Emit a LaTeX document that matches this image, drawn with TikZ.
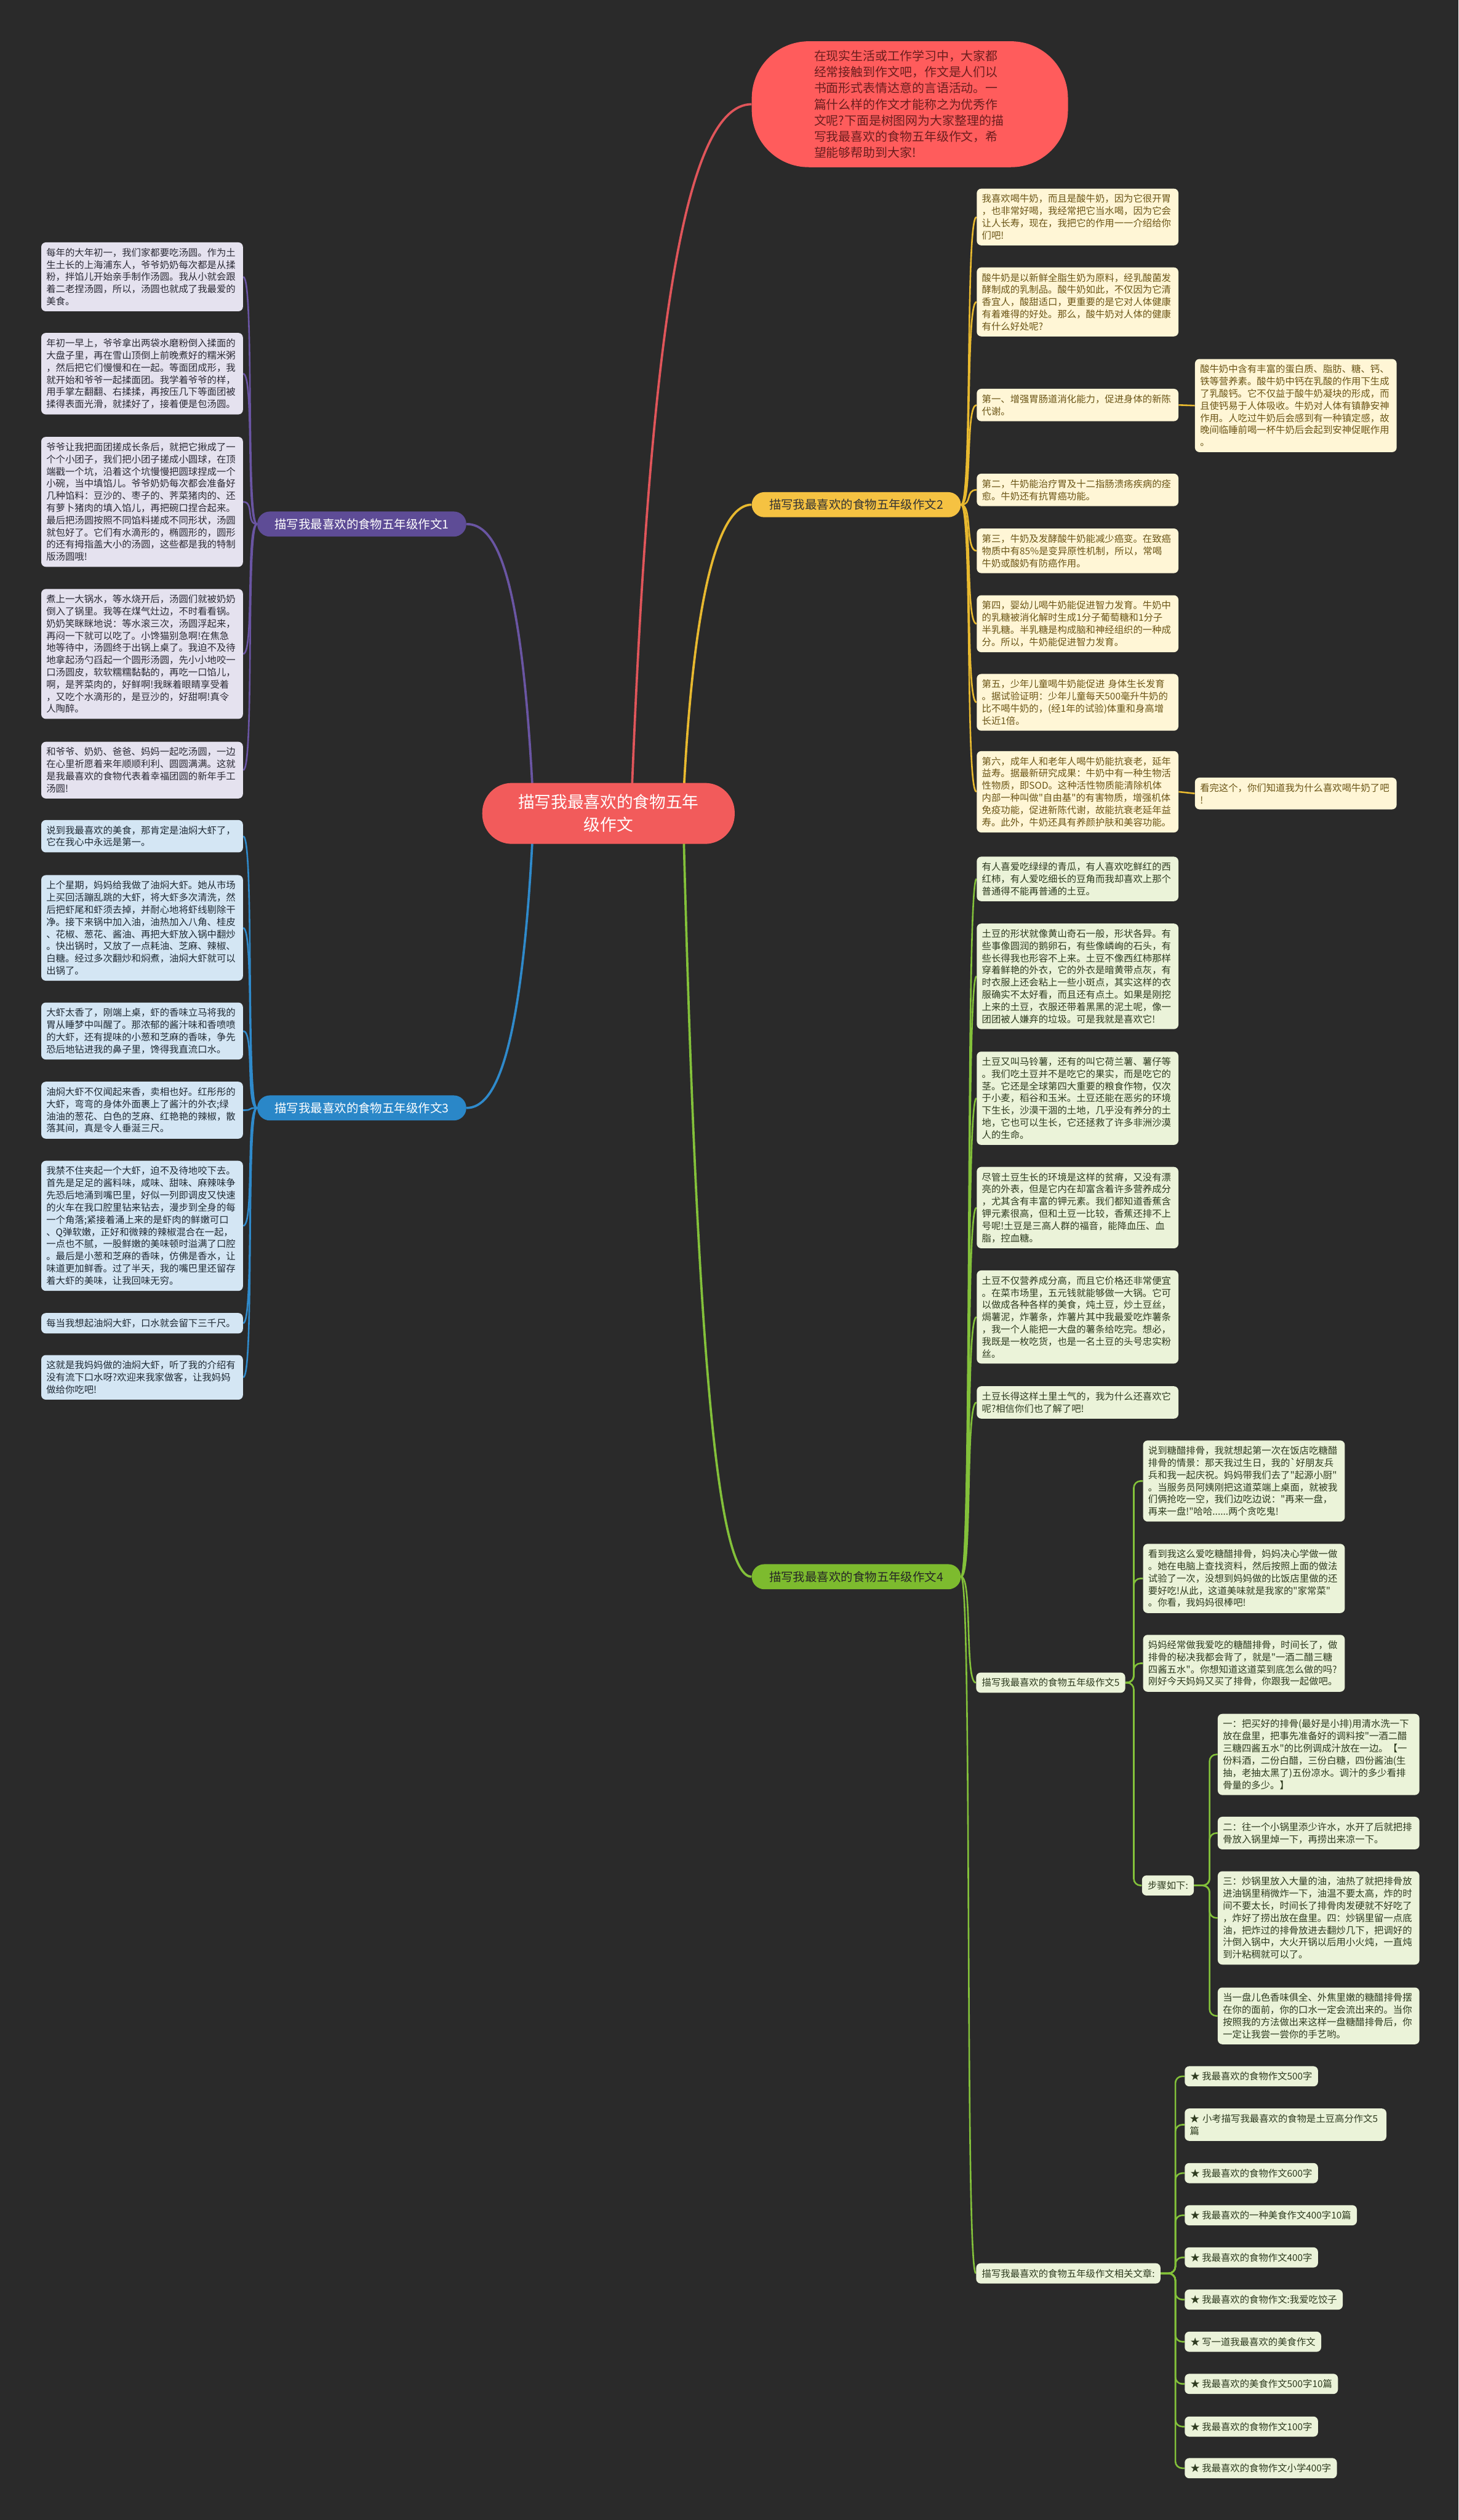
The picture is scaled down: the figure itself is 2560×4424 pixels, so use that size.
\documentclass[tikz,border=0pt]{standalone}
\usepackage{fontspec}
\newfontfamily\cjk{Noto Sans CJK SC}
\usetikzlibrary{calc}
\pgfdeclarelayer{bg}
\pgfsetlayers{bg,main}
\definecolor{bgc}{HTML}{2A2A2A}
\definecolor{cred}{HTML}{F25B5B}
\definecolor{tred}{HTML}{FF5C5C}
\definecolor{ttx}{HTML}{6B1E1E}
\definecolor{lnr}{HTML}{E0555A}
\definecolor{ln1}{HTML}{6A55A3}
\definecolor{ln2}{HTML}{E8B92F}
\definecolor{ln3}{HTML}{2F8ACB}
\definecolor{ln4}{HTML}{83C13A}
\definecolor{lb1}{HTML}{5E4C96}
\definecolor{lb2}{HTML}{F5C242}
\definecolor{lb3}{HTML}{2A87C8}
\definecolor{lb4}{HTML}{7DBB2E}
\definecolor{lf1}{HTML}{E5E2EF}
\definecolor{lf2}{HTML}{FFF6D6}
\definecolor{lf3}{HTML}{D4E6F4}
\definecolor{lf4}{HTML}{EBF3D9}
\definecolor{tx1}{HTML}{2A2A35}
\definecolor{tx2}{HTML}{6B5516}
\definecolor{tx3}{HTML}{1F2A35}
\definecolor{tx4}{HTML}{2E3B1F}
\tikzset{
 leaf/.style={rounded corners=4pt, inner xsep=4.5pt, inner ysep=5pt, text width=168pt, align=left, font=\cjk\fontsize{8.3}{10.7}\selectfont, anchor=west},
 tag/.style={rounded corners=4pt, inner xsep=5pt, inner ysep=5pt, font=\cjk\fontsize{8.3}{10.7}\selectfont, anchor=west},
 pa/.style={leaf, fill=lf1, text=tx1},
 pb/.style={leaf, fill=lf2, text=tx2},
 pc/.style={leaf, fill=lf3, text=tx3},
 pd/.style={leaf, fill=lf4, text=tx4},
 td/.style={tag, fill=lf4, text=tx4},
 blabel/.style={rounded corners=11pt, minimum width=183.5pt, minimum height=22pt, inner sep=0pt, font=\cjk\fontsize{10.5}{12}\selectfont},
 mline/.style={line width=2pt},
 la/.style={draw=ln1, line width=1.4pt},
 lb/.style={draw=ln2, line width=1.4pt},
 lc/.style={draw=ln3, line width=1.4pt},
 ld/.style={draw=ln4, line width=1.4pt},
}
\begin{document}
\begin{tikzpicture}[x=0.5pt,y=-0.5pt]
\useasboundingbox (0,0) rectangle (2560,4424);

% central and top nodes
\node[fill=cred, text=white, rounded corners=26pt, minimum width=221.5pt, minimum height=53.5pt, align=center, font=\cjk\fontsize{14.4}{20}\selectfont] (C) at (1068,1428) {描写我最喜欢的食物五年\\级作文};
\node[fill=tred, text=ttx, rounded corners=50pt, minimum width=277.5pt, minimum height=110.5pt, text width=168pt, align=left, font=\cjk\fontsize{10.75}{14.2}\selectfont] (T) at (1597,183) {在现实生活或工作学习中，大家都\\经常接触到作文吧，作文是人们以\\书面形式表情达意的言语活动。一\\篇什么样的作文才能称之为优秀作\\文呢?下面是树图网为大家整理的描\\写我最喜欢的食物五年级作文，希\\望能够帮助到大家!};

% branch labels
\node[blabel, fill=lb1, text=white] (L1) at (635,920) {描写我最喜欢的食物五年级作文1};
\node[blabel, fill=lb2, text=black!80] (L2) at (1503,886) {描写我最喜欢的食物五年级作文2};
\node[blabel, fill=lb3, text=white] (L3) at (635,1945) {描写我最喜欢的食物五年级作文3};
\node[blabel, fill=lb4, text=black!85] (L4) at (1503,2768) {描写我最喜欢的食物五年级作文4};

% branch 1
\node[pa] (A1) at (72,486) {每年的大年初一，我们家都要吃汤圆。作为土\\生土长的上海浦东人，爷爷奶奶每次都是从揉\\粉，拌馅儿开始亲手制作汤圆。我从小就会跟\\着二老捏汤圆，所以，汤圆也就成了我最爱的\\美食。};
\node[pa] (A2) at (72,656) {年初一早上，爷爷拿出两袋水磨粉倒入揉面的\\大盘子里，再在雪山顶倒上前晚煮好的糯米粥\\，然后把它们慢慢和在一起。等面团成形，我\\就开始和爷爷一起揉面团。我学着爷爷的样，\\用手掌左翻翻、右揉揉，再按压几下等面团被\\揉得表面光滑，就揉好了，接着便是包汤圆。};
\node[pa] (A3) at (72,881) {爷爷让我把面团搓成长条后，就把它揪成了一\\个个小团子，我们把小团子搓成小圆球，在顶\\端戳一个坑，沿着这个坑慢慢把圆球捏成一个\\小碗，当中填馅儿。爷爷奶奶每次都会准备好\\几种馅料：豆沙的、枣子的、荠菜猪肉的、还\\有萝卜猪肉的填入馅儿，再把碗口捏合起来。\\最后把汤圆按照不同馅料搓成不同形状，汤圆\\就包好了。它们有水滴形的，椭圆形的，圆形\\的还有拇指盖大小的汤圆，这些都是我的特制\\版汤圆哦!};
\node[pa] (A4) at (72,1148) {煮上一大锅水，等水烧开后，汤圆们就被奶奶\\倒入了锅里。我等在煤气灶边，不时看看锅。\\奶奶笑眯眯地说：等水滚三次，汤圆浮起来，\\再闷一下就可以吃了。小馋猫别急啊!在焦急\\地等待中，汤圆终于出锅上桌了。我迫不及待\\地拿起汤勺舀起一个圆形汤圆，先小小地咬一\\口汤圆皮，软软糯糯黏黏的，再吃一口馅儿，\\啊，是荠菜肉的，好鲜啊!我眯着眼睛享受着\\，又吃个水滴形的，是豆沙的，好甜啊!真令\\人陶醉。};
\node[pa] (A5) at (72,1352) {和爷爷、奶奶、爸爸、妈妈一起吃汤圆，一边\\在心里祈愿着来年顺顺利利、圆圆满满。这就\\是我最喜欢的食物代表着幸福团圆的新年手工\\汤圆!};

% branch 3
\node[pc] (C1) at (72,1468) {说到我最喜欢的美食，那肯定是油焖大虾了，\\它在我心中永远是第一。};
\node[pc] (C2) at (72,1629) {上个星期，妈妈给我做了油焖大虾。她从市场\\上买回活蹦乱跳的大虾，将大虾多次清洗，然\\后把虾尾和虾须去掉，并耐心地将虾线剔除干\\净。接下来锅中加入油，油热加入八角、桂皮\\、花椒、葱花、酱油、再把大虾放入锅中翻炒\\。快出锅时，又放了一点耗油、芝麻、辣椒、\\白糖。经过多次翻炒和焖煮，油焖大虾就可以\\出锅了。};
\node[pc] (C3) at (72,1810) {大虾太香了，刚端上桌，虾的香味立马将我的\\胃从睡梦中叫醒了。那浓郁的酱汁味和香喷喷\\的大虾，还有提味的小葱和芝麻的香味，争先\\恐后地钻进我的鼻子里，馋得我直流口水。};
\node[pc] (C4) at (72,1949) {油焖大虾不仅闻起来香，卖相也好。红彤彤的\\大虾，弯弯的身体外面裹上了酱汁的外衣;绿\\油油的葱花、白色的芝麻、红艳艳的辣椒，散\\落其间，真是令人垂涎三尺。};
\node[pc] (C5) at (72,2152) {我禁不住夹起一个大虾，迫不及待地咬下去。\\首先是足足的酱料味，咸味、甜味、麻辣味争\\先恐后地涌到嘴巴里，好似一列即调皮又快速\\的火车在我口腔里钻来钻去，漫步到全身的每\\一个角落;紧接着涌上来的是虾肉的鲜嫩可口\\、Q弹软嫩，正好和微辣的辣椒混合在一起，\\一点也不腻，一股鲜嫩的美味顿时溢满了口腔\\。最后是小葱和芝麻的香味，仿佛是香水，让\\味道更加鲜香。过了半天，我的嘴巴里还留存\\着大虾的美味，让我回味无穷。};
\node[pc] (C6) at (72,2323) {每当我想起油焖大虾，口水就会留下三千尺。};
\node[pc] (C7) at (72,2418) {这就是我妈妈做的油焖大虾，听了我的介绍有\\没有流下口水呀?欢迎来我家做客，让我妈妈\\做给你吃吧!};

% branch 2
\node[pb] (B1) at (1714,381) {我喜欢喝牛奶，而且是酸牛奶，因为它很开胃\\，也非常好喝，我经常把它当水喝，因为它会\\让人长寿，现在，我把它的作用一一介绍给你\\们吧!};
\node[pb] (B2) at (1714,530) {酸牛奶是以新鲜全脂生奶为原料，经乳酸菌发\\酵制成的乳制品。酸牛奶如此，不仅因为它清\\香宜人，酸甜适口，更重要的是它对人体健康\\有着难得的好处。那么，酸牛奶对人体的健康\\有什么好处呢?};
\node[pb] (B3) at (1714,711) {第一、增强胃肠道消化能力，促进身体的新陈\\代谢。};
\node[pb] (BS1) at (2097,712) {酸牛奶中含有丰富的蛋白质、脂肪、糖、钙、\\铁等营养素。酸牛奶中钙在乳酸的作用下生成\\了乳酸钙。它不仅益于酸牛奶凝块的形成，而\\且使钙易于人体吸收。牛奶对人体有镇静安神\\作用。人吃过牛奶后会感到有一种镇定感，故\\晚间临睡前喝一杯牛奶后会起到安神促眠作用\\。};
\node[pb] (B4) at (1714,860) {第二，牛奶能治疗胃及十二指肠溃疡疾病的痊\\愈。牛奶还有抗胃癌功能。};
\node[pb] (B5) at (1714,967) {第三，牛奶及发酵酸牛奶能减少癌变。在致癌\\物质中有85\%是变异原性机制，所以，常喝\\牛奶或酸奶有防癌作用。};
\node[pb] (B6) at (1714,1095) {第四，婴幼儿喝牛奶能促进智力发育。牛奶中\\的乳糖被消化解时生成1分子葡萄糖和1分子\\半乳糖。半乳糖是构成脑和神经组织的一种成\\分。所以，牛奶能促进智力发育。};
\node[pb] (B7) at (1714,1233) {第五，少年儿童喝牛奶能促进 身体生长发育\\。据试验证明：少年儿童每天500毫升牛奶的\\比不喝牛奶的，(经1年的试验)体重和身高增\\长近1倍。};
\node[pb] (B8) at (1714,1390) {第六，成年人和老年人喝牛奶能抗衰老，延年\\益寿。据最新研究成果：牛奶中有一种生物活\\性物质，即SOD。这种活性物质能清除机体\\内部一种叫做"自由基"的有害物质，增强机体\\免疫功能，促进新陈代谢，故能抗衰老延年益\\寿。此外，牛奶还具有养颜护肤和美容功能。};
\node[pb] (BS2) at (2097,1393) {看完这个，你们知道我为什么喜欢喝牛奶了吧\\!};

% branch 4
\node[pd] (D1) at (1714,1543) {有人喜爱吃绿绿的青瓜，有人喜欢吃鲜红的西\\红柿，有人爱吃细长的豆角而我却喜欢上那个\\普通得不能再普通的土豆。};
\node[pd] (D2) at (1714,1714) {土豆的形状就像黄山奇石一般，形状各异。有\\些事像圆润的鹅卵石，有些像嶙峋的石头，有\\些长得我也形容不上来。土豆不像西红柿那样\\穿着鲜艳的外衣，它的外衣是暗黄带点灰，有\\时衣服上还会粘上一些小斑点，其实这样的衣\\服确实不太好看，而且还有点土。如果是刚挖\\上来的土豆，衣服还带着黑黑的泥土呢，像一\\团团被人嫌弃的垃圾。可是我就是喜欢它!};
\node[pd] (D3) at (1714,1928) {土豆又叫马铃薯，还有的叫它荷兰薯、薯仔等\\。我们吃土豆并不是吃它的果实，而是吃它的\\茎。它还是全球第四大重要的粮食作物，仅次\\于小麦，稻谷和玉米。土豆还能在恶劣的环境\\下生长，沙漠干涸的土地，几乎没有养分的土\\地，它也可以生长，它还拯救了许多非洲沙漠\\人的生命。};
\node[pd] (D4) at (1714,2120) {尽管土豆生长的环境是这样的贫瘠，又没有漂\\亮的外表，但是它内在却富含着许多营养成分\\，尤其含有丰富的钾元素。我们都知道香蕉含\\钾元素很高，但和土豆一比较，香蕉还排不上\\号呢!土豆是三高人群的福音，能降血压、血\\脂，控血糖。};
\node[pd] (D5) at (1714,2312) {土豆不仅营养成分高，而且它价格还非常便宜\\。在菜市场里，五元钱就能够做一大锅。它可\\以做成各种各样的美食，炖土豆，炒土豆丝，\\焗薯泥，炸薯条，炸薯片其中我最爱吃炸薯条\\，我一个人能把一大盘的薯条给吃完。想必，\\我既是一枚吃货，也是一名土豆的头号忠实粉\\丝。};
\node[pd] (D6) at (1714,2462) {土豆长得这样土里土气的，我为什么还喜欢它\\呢?相信你们也了解了吧!};
\node[td] (N5) at (1713,2954) {描写我最喜欢的食物五年级作文5};
\node[pd] (E1) at (2006,2600) {说到糖醋排骨，我就想起第一次在饭店吃糖醋\\排骨的情景：那天我过生日，我的`好朋友兵\\兵和我一起庆祝。妈妈带我们去了"起源小厨"\\。当服务员阿姨刚把这道菜端上桌面，就被我\\们俩抢吃一空，我们边吃边说："再来一盘，\\再来一盘!"哈哈......两个贪吃鬼!};
\node[pd] (E2) at (2006,2771) {看到我这么爱吃糖醋排骨，妈妈决心学做一做\\。她在电脑上查找资料，然后按照上面的做法\\试验了一次，没想到妈妈做的比饭店里做的还\\要好吃!从此，这道美味就是我家的"家常菜"\\。你看，我妈妈很棒吧!};
\node[pd] (E3) at (2006,2920) {妈妈经常做我爱吃的糖醋排骨，时间长了，做\\排骨的秘决我都会背了，就是"一酒二醋三糖\\四酱五水"。你想知道这道菜到底怎么做的吗?\\刚好今天妈妈又买了排骨，你跟我一起做吧。};
\node[td] (ST) at (2004,3310) {步骤如下:};
\node[pd] (S1) at (2137,3080) {一：把买好的排骨(最好是小排)用清水洗一下\\放在盘里，把事先准备好的调料按"一酒二醋\\三糖四酱五水"的比例调成汁放在一边。【一\\份料酒，二份白醋，三份白糖，四份酱油(生\\抽，老抽太黑了)五份凉水。调汁的多少看排\\骨量的多少。】};
\node[pd] (S2) at (2137,3218) {二：往一个小锅里添少许水，水开了后就把排\\骨放入锅里焯一下，再捞出来凉一下。};
\node[pd] (S3) at (2137,3367) {三：炒锅里放入大量的油，油热了就把排骨放\\进油锅里稍微炸一下，油温不要太高，炸的时\\间不要太长，时间长了排骨肉发硬就不好吃了\\，炸好了捞出放在盘里。四：炒锅里留一点底\\油，把炸过的排骨放进去翻炒几下，把调好的\\汁倒入锅中，大火开锅以后用小火炖，一直炖\\到汁粘稠就可以了。};
\node[pd] (S4) at (2137,3539) {当一盘儿色香味俱全、外焦里嫩的糖醋排骨摆\\在你的面前，你的口水一定会流出来的。当你\\按照我的方法做出来这样一盘糖醋排骨后，你\\一定让我尝一尝你的手艺哟。};
\node[td] (RL) at (1713,3991) {描写我最喜欢的食物五年级作文相关文章:};
\node[td] (R1) at (2079,3645) {★ 我最喜欢的食物作文500字};
\node[pd] (R2) at (2079,3730) {★ 小考描写我最喜欢的食物是土豆高分作文5\\篇};
\node[td] (R3) at (2079,3815) {★ 我最喜欢的食物作文600字};
\node[td] (R4) at (2079,3889) {★ 我最喜欢的一种美食作文400字10篇};
\node[td] (R5) at (2079,3963) {★ 我最喜欢的食物作文400字};
\node[td] (R6) at (2079,4037) {★ 我最喜欢的食物作文:我爱吃饺子};
\node[td] (R7) at (2079,4111) {★ 写一道我最喜欢的美食作文};
\node[td] (R8) at (2079,4185) {★ 我最喜欢的美食作文500字10篇};
\node[td] (R9) at (2079,4260) {★ 我最喜欢的食物作文100字};
\node[td] (R10) at (2079,4333) {★ 我最喜欢的食物作文小学400字};

\coordinate (t5) at (1990,2954);
\coordinate (ts) at (2123,3310);
\coordinate (tr) at (2063,3991);

\begin{pgfonlayer}{bg}
\fill[bgc] (0,0) rectangle (2560,4424);
% main connectors
\draw[mline, draw=lnr] (1109,1390) .. controls (1140,600) and (1200,183) .. (T.west);
\draw[mline, draw=ln1] (935,1392) .. controls (915,1000) and (870,920) .. (L1.east);
\draw[mline, draw=ln3] (935,1465) .. controls (915,1850) and (870,1945) .. (L3.east);
\draw[mline, draw=ln2] (1200,1392) .. controls (1220,1000) and (1270,886) .. (L2.west);
\draw[mline, draw=ln4] (1200,1465) .. controls (1225,2450) and (1265,2768) .. (L4.west);
% branch 1
\foreach \n in {A1,A2,A3,A4,A5}
  \draw[la] (L1.west) .. controls +(-20,0) and +(20,0) .. (\n.east);
% branch 3
\foreach \n in {C1,C2,C3,C4,C5,C6,C7}
  \draw[lc] (L3.west) .. controls +(-20,0) and +(20,0) .. (\n.east);
% branch 2
\foreach \n in {B1,B2,B3,B4,B5,B6,B7,B8}
  \draw[lb] (L2.east) .. controls +(20,0) and +(-20,0) .. (\n.west);
\draw[lb] (B3.east) -- (BS1.west);
\draw[lb] (B8.east) -- (BS2.west);
% branch 4
\foreach \n in {D1,D2,D3,D4,D5,D6,N5,RL}
  \draw[ld] (L4.east) .. controls +(20,0) and +(-20,0) .. (\n.west);
\foreach \n in {E1,E2,E3,ST}
  \draw[ld, rounded corners=6pt] (N5.east) -- (t5) |- (\n.west);
\foreach \n in {S1,S2,S3,S4}
  \draw[ld, rounded corners=6pt] (ST.east) -- (ts) |- (\n.west);
\foreach \n in {R1,R2,R3,R4,R5,R6,R7,R8,R9,R10}
  \draw[ld, rounded corners=6pt] (RL.east) -- (tr) |- (\n.west);
\end{pgfonlayer}
\end{tikzpicture}
\end{document}
